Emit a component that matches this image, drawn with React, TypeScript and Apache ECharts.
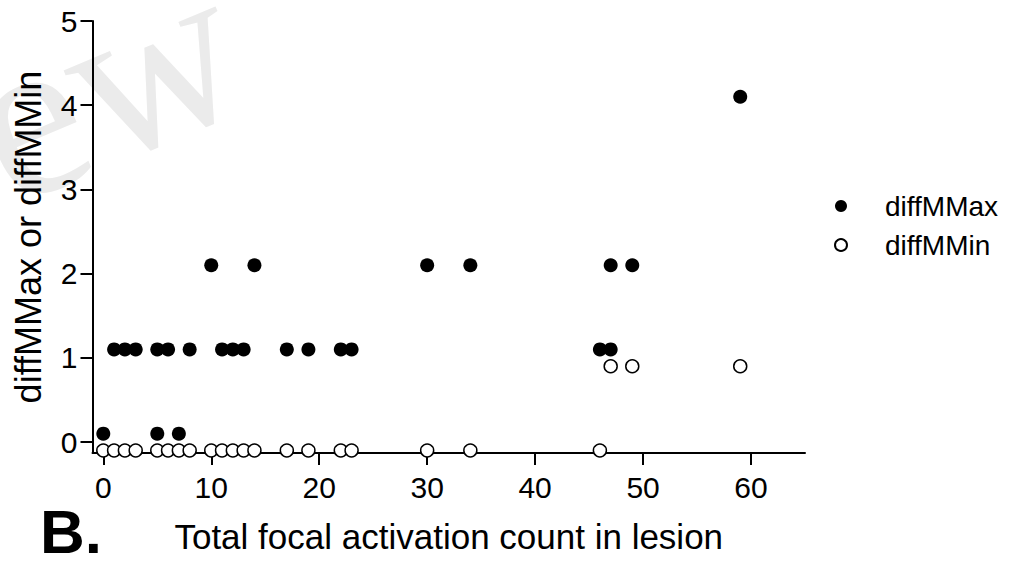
import React, { useEffect, useRef } from "react";
import * as echarts from "echarts";

const seriesNames = ["diffMMax", "diffMMin"];
const xTickValues = [0, 10, 20, 30, 40, 50, 60];
const yTickValues = [0, 1, 2, 3, 4, 5];

// diffMMax (filled) points: [count, value]
const diffMMaxPoints: [number, number][] = [
  [0, 0.1], [5, 0.1], [7, 0.1],
  [1, 1.1], [2, 1.1], [3, 1.1], [5, 1.1], [6, 1.1], [8, 1.1],
  [11, 1.1], [12, 1.1], [13, 1.1], [17, 1.1], [19, 1.1], [22, 1.1],
  [23, 1.1], [46, 1.1], [47, 1.1],
  [10, 2.1], [14, 2.1], [30, 2.1], [34, 2.1], [47, 2.1], [49, 2.1],
  [59, 4.1],
];

// diffMMin (open) points
const diffMMinPoints: [number, number][] = [
  [0, -0.1], [1, -0.1], [2, -0.1], [3, -0.1], [5, -0.1], [6, -0.1],
  [7, -0.1], [8, -0.1], [10, -0.1], [11, -0.1], [12, -0.1], [13, -0.1],
  [14, -0.1], [17, -0.1], [19, -0.1], [22, -0.1], [23, -0.1], [30, -0.1],
  [34, -0.1], [46, -0.1],
  [47, 0.9], [49, 0.9], [59, 0.9],
];

const FONT = "'Liberation Sans', Arial, Helvetica, sans-serif";

export default function App() {
  const ref = useRef<HTMLDivElement>(null);
  useEffect(() => {
    if (!ref.current) return;
    const chart = echarts.init(ref.current, undefined, { renderer: "svg" });
    chart.setOption({
      animation: false,
      backgroundColor: "#ffffff",
      grid: { left: 92.5, right: 223, top: 21, bottom: 115, containLabel: false },
      xAxis: {
        type: "value",
        min: -1,
        max: 65,
        name: "Total focal activation count in lesion",
        nameLocation: "middle",
        nameGap: 66,
        nameTextStyle: { fontSize: 35, color: "#000", fontFamily: FONT },
        axisLine: { show: true, onZero: false, lineStyle: { color: "#000", width: 2 } },
        axisTick: {
          show: true,
          length: 12,
          inside: false,
          customValues: xTickValues,
          lineStyle: { color: "#000", width: 2 },
        },
        axisLabel: {
          customValues: xTickValues,
          margin: 19,
          fontSize: 30,
          color: "#000",
          fontFamily: FONT,
        },
        splitLine: { show: false },
      },
      yAxis: {
        type: "value",
        min: -0.13,
        max: 5,
        name: "diffMMax or diffMMin",
        nameLocation: "middle",
        nameGap: 46,
        nameTextStyle: { fontSize: 36, color: "#000", fontFamily: FONT },
        axisLine: { show: true, onZero: false, lineStyle: { color: "#000", width: 2 } },
        axisTick: {
          show: true,
          length: 12,
          inside: false,
          customValues: yTickValues,
          lineStyle: { color: "#000", width: 2 },
        },
        axisLabel: {
          customValues: yTickValues,
          margin: 15,
          fontSize: 30,
          color: "#000",
          fontFamily: FONT,
        },
        splitLine: { show: false },
      },
      legend: {
        orient: "vertical",
        left: 829,
        top: 187,
        itemWidth: 12,
        itemHeight: 12,
        itemGap: 11,
        icon: "circle",
        data: seriesNames,
        textStyle: {
          fontSize: 28,
          lineHeight: 28,
          color: "#000",
          fontFamily: FONT,
          padding: [0, 0, 0, 33],
        },
      },
      graphic: [
        {
          type: "text",
          x: 25,
          y: 242,
          rotation: 0.4,
          z: -10,
          silent: true,
          style: {
            text: "ew",
            fontSize: 230,
            fontFamily: "'Liberation Serif', 'DejaVu Serif', serif",
            fill: "#ebebeb",
            textAlign: "left",
            textVerticalAlign: "bottom",
          },
        },
        {
          type: "text",
          left: 40,
          top: 500,
          z: 10,
          style: {
            text: "B.",
            fontSize: 62,
            fontWeight: "bold",
            fontFamily: FONT,
            fill: "#000",
          },
        },
      ],
      series: [
        {
          name: seriesNames[0],
          type: "scatter",
          data: diffMMaxPoints,
          symbol: "circle",
          symbolSize: 14,
          itemStyle: { color: "#000", opacity: 1 },
          z: 3,
        },
        {
          name: seriesNames[1],
          type: "scatter",
          data: diffMMinPoints,
          symbol: "circle",
          symbolSize: 13,
          itemStyle: { color: "#fff", borderColor: "#000", borderWidth: 1.5, opacity: 1 },
          z: 2,
        },
      ],
    });
    return () => chart.dispose();
  }, []);
  return <div ref={ref} style={{ width: 1028, height: 568, position: "absolute", left: 0, top: 0 }} />;
}
